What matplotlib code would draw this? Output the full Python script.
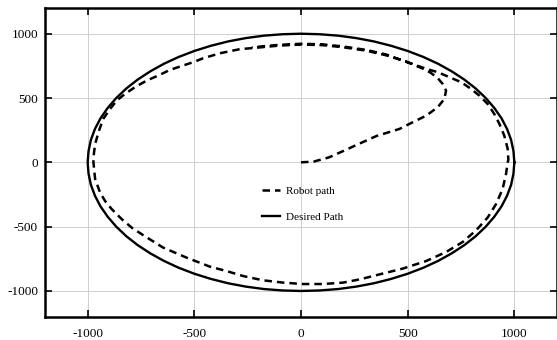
import matplotlib
matplotlib.use("Agg")
import matplotlib.pyplot as plt

plt.rcParams['font.family'] = ['Liberation Serif', 'DejaVu Serif']
plt.rcParams['axes.unicode_minus'] = False

# desired path, one quarter (every 5 degrees), mirrored
quarter_x = [1000, 996, 985, 966, 940, 906, 866, 819, 766, 707,
             643, 574, 500, 423, 342, 259, 174, 87, 0]
quarter_y = quarter_x[::-1]
desired_x = (quarter_x + [-v for v in quarter_x[::-1][1:]]
             + [-v for v in quarter_x[1:]] + quarter_x[::-1][1:])
desired_y = (quarter_y + quarter_y[::-1][1:]
             + [-v for v in quarter_y[1:]] + [-v for v in quarter_y[::-1][1:]])

# robot path: from origin, loop up to the top, once round, then a second pass over the top
robot_x = [0, 60, 130, 198, 280, 354, 462, 524, 587, 641, 672, 680, 664,
           641, 610, 578,
           532, 493, 400, 306, 197, 103, 2, -100, -209, -287, -380, -459,
           -505, -614, -669, -723, -778, -825, -864, -895, -927, -947, -965,
           -973, -973,
           -965, -942, -919, -887, -840, -794, -739, -646, -536, -427,
           -349, -271, -178, -84, 9, 103, 197, 275, 368, 477, 587, 680,
           758, 821, 875, 914, 945, 961, 969, 972, 969, 953, 930, 906,
           875, 836, 797, 751, 696, 641, 587,
           532, 477, 400, 306, 197, 103, 2, -100, -200, -230]
robot_y = [0, 6, 38, 88, 150, 205, 260, 312, 363, 429, 493, 558, 610,
           655, 694, 724,
           756, 784, 832, 868, 895, 911, 916, 908, 891, 880, 848, 809,
           779, 719, 675, 636, 585, 532, 480, 415, 338, 246, 143,
           39, 0,
           -130, -234, -299, -364, -442, -507, -567, -663, -741, -811,
           -845, -884, -917, -935, -946, -946, -935, -910, -871, -826, -767, -697,
           -619, -528, -429, -325, -208, -91, 0, 20, 104, 207, 299, 376,
           454, 519, 571, 623, 662, 701, 727,
           759, 791, 838, 874, 901, 917, 922, 914, 899, 894]

ticks = [-1000, -500, 0, 500, 1000]

fig = plt.figure(figsize=(5.57, 3.40), dpi=100)
ax = fig.add_axes([45 / 557, 23.3 / 340, 1 - 45 / 557, 308.7 / 340])

ax.plot(robot_x, robot_y, color='black', lw=1.8, dashes=(3.0, 2.0),
        label='Robot path')
ax.plot(desired_x, desired_y, color='black', lw=1.7, label='Desired Path')

ax.set_xlim(-1200, 1200)
ax.set_ylim(-1200, 1200)
ax.set_xticks(ticks)
ax.set_yticks(ticks)
ax.grid(True, color='#c8c8c8', lw=0.6)
ax.tick_params(direction='in', length=5, width=1.2, top=True, right=True,
               labelsize=9.5, pad=5)
ax.tick_params(axis='x', pad=8)
for s in ax.spines.values():
    s.set_linewidth(1.8)

ax.legend(loc='upper left', bbox_to_anchor=(262 / 557, 1 - 186 / 340),
          bbox_transform=fig.transFigure, frameon=False, fontsize=8,
          borderpad=0, borderaxespad=0, handlelength=1.6, handletextpad=0.6,
          labelspacing=1.45)

fig.savefig('out.png', dpi=100)
